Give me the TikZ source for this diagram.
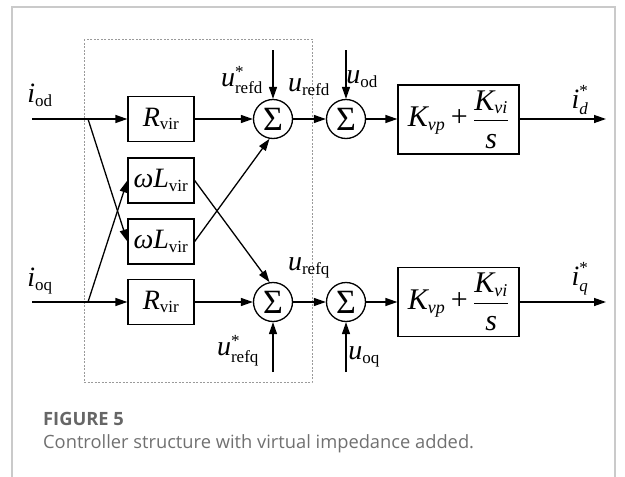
\documentclass[tikz,border=0pt]{standalone}
\usepackage{amsmath}
\usepackage{fontspec}
\setmainfont{Liberation Serif}
\newfontfamily\capfont{Open Sans}
\usetikzlibrary{arrows.meta}
\DeclareMathSizes{28}{28}{17}{12}
\DeclareMathSizes{30}{30}{18}{13}
\newcommand{\vsub}[2]{$\text{\itshape #1}_{\text{#2}}$}
\newcommand{\vsupsub}[3]{$\text{\itshape #1}^{\text{#2}}_{\text{#3}}$}
\newcommand{\picontent}{\raisebox{-4pt}{$\displaystyle\text{\itshape K}_{\text{\itshape vp}}\mathbin{\text{+}}\frac{\text{\itshape K}_{\text{\itshape vi}}}{\text{\itshape s}\rule{0pt}{24pt}}$}}
\definecolor{capgray}{HTML}{707070}
\definecolor{capdark}{HTML}{666666}
\definecolor{framegray}{HTML}{CACACA}
\definecolor{dashgray}{HTML}{9A9A9A}
\tikzset{
  blk/.style={draw, line width=1.3pt, minimum width=66pt, minimum height=45pt, inner sep=0pt, font=\fontsize{28}{32}\selectfont},
  piblk/.style={draw, line width=1.3pt, minimum width=121pt, minimum height=69pt, inner sep=0pt, font=\fontsize{30}{34}\selectfont},
  sumnode/.style={draw, circle, line width=1.3pt, minimum size=39pt, inner sep=0pt, font=\fontsize{34}{38}\selectfont},
  arr/.style={line width=1.3pt, -{Triangle[length=12pt,width=8pt]}},
  lab/.style={inner sep=0pt, font=\fontsize{28}{32}\selectfont},
  dashbox/.style={draw=dashgray, line width=0.6pt, dash pattern=on 2pt off 1.5pt},
  framebox/.style={draw=framegray, line width=1.1pt},
}
\begin{document}
\begin{tikzpicture}[x=1pt,y=-1pt]
\useasboundingbox (0,0) rectangle (625,477);
% frame
\draw[framebox] (12,477) -- (12,7) -- (615,7) -- (615,477);
% dashed virtual-impedance box
\draw[dashbox] (84,39) rectangle (312,382);
% blocks
\node[blk] (R1) at (161,119) {\vsub{R}{vir}};
\node[blk] (L1) at (161,180.5) {\vsub{ωL}{vir}};
\node[blk] (L2) at (161,241.5) {\vsub{ωL}{vir}};
\node[blk] (R2) at (161,302) {\vsub{R}{vir}};
\node[sumnode] (s1) at (273,119) {Σ};
\node[sumnode] (s2) at (346,119) {Σ};
\node[sumnode] (s3) at (273,302) {Σ};
\node[sumnode] (s4) at (346,302) {Σ};
\node[piblk] (P1) at (458.5,119.5) {\picontent};
\node[piblk] (P2) at (458.5,302) {\picontent};
% free ends
\coordinate (iin) at (32,119);
\coordinate (b1) at (88,119);
\coordinate (qin) at (32,302);
\coordinate (b2) at (88,302);
\coordinate (t1) at (273,50);
\coordinate (t2) at (346,50);
\coordinate (d1) at (273,372);
\coordinate (d2) at (346,372);
\coordinate (o1) at (606,119);
\coordinate (o2) at (606,302);
% connectors
\draw[arr] (iin) -- (R1.west);
\draw[arr] (qin) -- (R2.west);
\draw[arr] (b1) -- (L2.west);
\draw[arr] (b2) -- (L1.west);
\draw[arr] (R1) -- (s1);
\draw[arr] (R2) -- (s3);
\draw[arr] (L1.east) -- (s3.100);
\draw[arr] (L2.east) -- (s1.-100);
\draw[arr] (t1) -- (s1);
\draw[arr] (t2) -- (s2);
\draw[arr] (d1) -- (s3);
\draw[arr] (d2) -- (s4);
\draw[arr] (s1) -- (s2);
\draw[arr] (s3) -- (s4);
\draw[arr] (s2) -- (P1.west |- s2);
\draw[arr] (s4) -- (P2.west |- s4);
\draw[arr] (P1.east |- o1) -- (o1);
\draw[arr] (P2.east |- o2) -- (o2);
% labels
\node[lab] (liod) at (40,95) {\vsub{i}{od}};
\node[lab] (lioq) at (40,281) {\vsub{i}{oq}};
\node[lab] (lurefds) at (242,80) {\vsupsub{u}{*}{refd}};
\node[lab] (lurefd) at (309,87) {\vsub{u}{refd}};
\node[lab] (luod) at (362,79) {\vsub{u}{od}};
\node[lab] (lurefqs) at (238,351) {\vsupsub{u}{*}{refq}};
\node[lab] (lurefq) at (309,268) {\vsub{u}{refq}};
\node[lab] (luoq) at (364,357) {\vsub{u}{oq}};
\node[lab] (lid) at (580,100) {\vsupsub{i}{*}{\itshape d}};
\node[lab] (liq) at (580,279) {\vsupsub{i}{*}{\itshape q}};
% caption
\node[anchor=base west, inner sep=0pt, text=capdark, font=\capfont\bfseries\fontsize{18.3}{22}\selectfont] (fig) at (43,425) {FIGURE 5};
\node[anchor=base west, inner sep=0pt, text=capgray, font=\capfont\fontsize{18.3}{22}\selectfont] (cap) at (43,448) {Controller structure with virtual impedance added.};
\end{tikzpicture}
\end{document}
